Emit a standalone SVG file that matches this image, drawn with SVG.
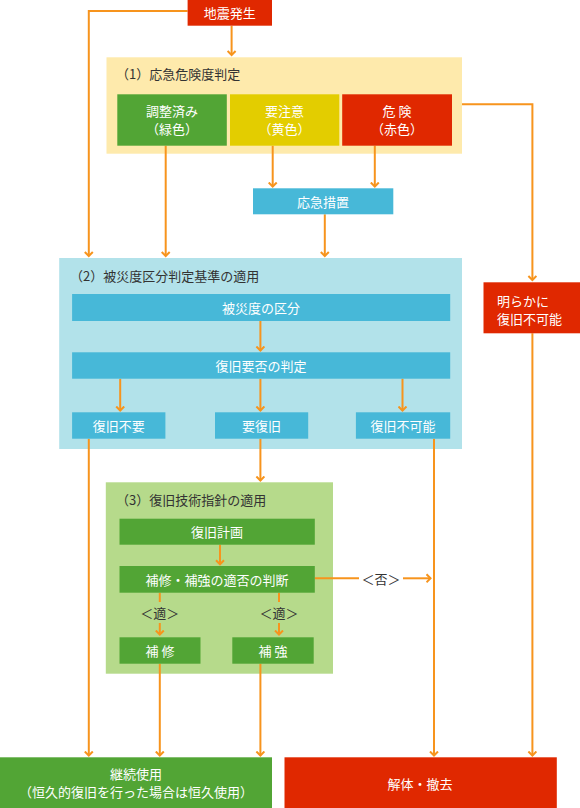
<svg xmlns="http://www.w3.org/2000/svg" width="580" height="808" viewBox="0 0 580 808">
<defs>
<marker id="ah" markerWidth="10" markerHeight="10" refX="5" refY="5" orient="auto" markerUnits="userSpaceOnUse">
<path d="M1,1 L5,5 L1,9" fill="none" stroke="#F7941D" stroke-width="2"/>
</marker>
<style>
.t{font-family:"Noto Sans CJK JP","Noto Sans",sans-serif;font-size:13px;dominant-baseline:central}
.w{fill:#fff;text-anchor:middle}
.k{fill:#333}
.c{fill:none;stroke:#F7941D;stroke-width:2}
.a{marker-end:url(#ah)}
.red{fill:#E02800}
.grn{fill:#52A535}
.yel{fill:#E3CD00}
.blu{fill:#47B8D8}
</style>
</defs>
<rect width="580" height="808" fill="#fff"/>

<g id="group1">
<rect x="106.5" y="57.3" width="355.5" height="96.4" fill="#FEEAAC"/>
<text class="t k" x="116" y="73">（1）応急危険度判定</text>
</g>
<g id="group2">
<rect x="59.2" y="258" width="402.8" height="191" fill="#B2E2EA"/>
<text class="t k" x="70" y="275">（2）被災度区分判定基準の適用</text>
</g>
<g id="group3">
<rect x="105.8" y="482.3" width="227.2" height="191.4" fill="#B6DA8B"/>
<text class="t k" x="116" y="499">（3）復旧技術指針の適用</text>
</g>

<g id="connectors">
<path class="c a" d="M187.6,11 H88.8 V256"/>
<path class="c a" d="M231.6,25.7 V55"/>
<path class="c a" d="M462,104.3 H532.4 V280"/>
<path class="c a" d="M165.7,145.7 V256"/>
<path class="c a" d="M272.7,145.7 V186.5"/>
<path class="c a" d="M374.8,145.7 V186.5"/>
<path class="c a" d="M324.8,214.3 V256"/>
<path class="c a" d="M260.4,321 V350.5"/>
<path class="c a" d="M120.2,378.7 V410.5"/>
<path class="c a" d="M260.4,378.7 V410.5"/>
<path class="c a" d="M402.5,378.7 V410.5"/>
<path class="c a" d="M88.8,438.7 V755.5"/>
<path class="c a" d="M260.4,438.7 V480.5"/>
<path class="c a" d="M434,438.7 V755.5"/>
<path class="c a" d="M532.4,333.3 V755.5"/>
<path class="c a" d="M220,544.7 V564.3"/>
<path class="c" d="M314.8,578.3 H359"/>
<path class="c a" d="M403,578.3 H430.5"/>
<text class="t k" x="381" y="578.3" text-anchor="middle">＜否＞</text>
<path class="c" d="M159.8,592.7 V602"/>
<path class="c a" d="M159.8,623 V634.5"/>
<text class="t k" x="159.8" y="612.7" text-anchor="middle">＜適＞</text>
<path class="c" d="M279,592.7 V602"/>
<path class="c a" d="M279,623 V634.5"/>
<text class="t k" x="279" y="612.7" text-anchor="middle">＜適＞</text>
<path class="c a" d="M159.8,663.7 V755.5"/>
<path class="c a" d="M260.4,663.7 V755.5"/>
</g>

<g id="n-earthquake">
<rect class="red" x="187.6" y="0" width="84.4" height="25.7"/>
<text class="t w" x="229.8" y="12.5">地震発生</text>
</g>
<g id="n-green">
<rect class="grn" x="117.3" y="94.3" width="109.5" height="51.4"/>
<text class="t w" x="172" y="110.5">調整済み</text>
<text class="t w" x="172" y="128.5">（緑色）</text>
</g>
<g id="n-yellow">
<rect class="yel" x="230" y="94.3" width="109.3" height="51.4"/>
<text class="t w" x="284.6" y="110.5">要注意</text>
<text class="t w" x="284.6" y="128.5">（黄色）</text>
</g>
<g id="n-red">
<rect class="red" x="342.2" y="94.3" width="109.8" height="51.4"/>
<text class="t w" x="397" y="110.5">危 険</text>
<text class="t w" x="397" y="128.5">（赤色）</text>
</g>
<g id="n-emergency">
<rect class="blu" x="253" y="188.3" width="140.3" height="26"/>
<text class="t w" x="323" y="201.3">応急措置</text>
</g>
<g id="n-unrecoverable">
<rect class="red" x="483.5" y="282.3" width="96.5" height="51"/>
<text class="t" x="497" y="300.2" fill="#fff">明らかに</text>
<text class="t" x="497" y="318.3" fill="#fff">復旧不可能</text>
</g>
<g id="n-damage">
<rect class="blu" x="72.1" y="294" width="378.1" height="27"/>
<text class="t w" x="261" y="307.5">被災度の区分</text>
</g>
<g id="n-judge">
<rect class="blu" x="72.1" y="352.3" width="378.1" height="26.4"/>
<text class="t w" x="261" y="365.5">復旧要否の判定</text>
</g>
<g id="n-norepair">
<rect class="blu" x="72.1" y="412.3" width="93.3" height="26.4"/>
<text class="t w" x="118.7" y="425.5">復旧不要</text>
</g>
<g id="n-needrepair">
<rect class="blu" x="215" y="412.3" width="93.2" height="26.4"/>
<text class="t w" x="261.6" y="425.5">要復旧</text>
</g>
<g id="n-impossible">
<rect class="blu" x="355.9" y="412.3" width="94.3" height="26.4"/>
<text class="t w" x="403" y="425.5">復旧不可能</text>
</g>
<g id="n-plan">
<rect class="grn" x="119.5" y="518.7" width="195.3" height="26"/>
<text class="t w" x="217" y="531.7">復旧計画</text>
</g>
<g id="n-suitability">
<rect class="grn" x="119.5" y="566" width="195.3" height="26.7"/>
<text class="t w" x="217" y="579.3">補修・補強の適否の判断</text>
</g>
<g id="n-repair">
<rect class="grn" x="119.5" y="637.3" width="81" height="26.4"/>
<text class="t w" x="160" y="650.5">補 修</text>
</g>
<g id="n-reinforce">
<rect class="grn" x="232.3" y="637.3" width="81.4" height="26.4"/>
<text class="t w" x="273" y="650.5">補 強</text>
</g>
<g id="n-continue">
<rect class="grn" x="0" y="757.3" width="272" height="50.7"/>
<text class="t w" x="136" y="773">継続使用</text>
<text class="t w" x="136" y="791">（恒久的復旧を行った場合は恒久使用）</text>
</g>
<g id="n-demolish">
<rect class="red" x="284.5" y="757.3" width="272.3" height="50.7"/>
<text class="t w" x="420" y="783">解体・撤去</text>
</g>
</svg>
